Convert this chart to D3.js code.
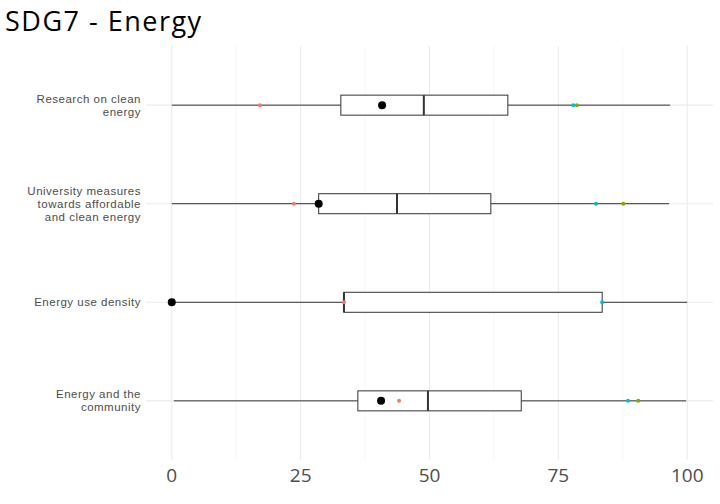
<html>
<head>
<style>
  body { margin: 0; background: white }
  text { font-family: "Open Sans", Lato, sans-serif; }
  .ylab text { font-family: "Liberation Sans", Arial, sans-serif; }
</style>
</head>
<body>
<script src="https://d3js.org/d3.v7.min.js"></script>
<script>
// Boxplots per indicator
var categories = ["Research on clean energy",
                  "University measures towards affordable and clean energy",
                  "Energy use density",
                  "Energy and the community"];
var labelLines = [["Research on clean", "energy"],
                  ["University measures", "towards affordable", "and clean energy"],
                  ["Energy use density"],
                  ["Energy and the", "community"]];
var whiskerLow  = [0, 0, 0, 0.4];
var q1          = [32.8, 28.5, 33.4, 36.1];
var median      = [48.9, 43.7, 33.4, 49.7];
var q3          = [65.2, 61.9, 83.5, 67.8];
var whiskerHigh = [96.7, 96.5, 100, 99.8];
var highlight   = [40.8, 28.5, 0, 40.6];   // big black point
var redPts      = [17.1, 23.7, 33.4, 44.1];
var cyanPts     = [77.9, 82.3, 83.5, 88.5];
var greenPts    = [78.6, 87.6, null, 90.5];
var xTicks      = [0, 25, 50, 75, 100];

var width = 720, height = 504;
var panel = {left: 146, right: 713, top: 46, bottom: 460};

var svg = d3.select("body").append("svg")
  .attr("width", width)
  .attr("height", height);

var x = d3.scaleLinear().domain([-5, 105]).range([panel.left, panel.right]);
var y = d3.scalePoint().domain(categories).range([panel.top, panel.bottom]).padding(0.6);

// grid
var grid = svg.append("g");
var minor = [12.5, 37.5, 62.5, 87.5];
grid.selectAll("line.minor").data(minor).enter().append("line")
  .attr("x1", function(d) { return x(d); }).attr("x2", function(d) { return x(d); })
  .attr("y1", panel.top).attr("y2", panel.bottom)
  .attr("stroke", "#f2f2f2").attr("stroke-width", 0.8);
grid.selectAll("line.major").data(xTicks).enter().append("line")
  .attr("x1", function(d) { return x(d); }).attr("x2", function(d) { return x(d); })
  .attr("y1", panel.top).attr("y2", panel.bottom)
  .attr("stroke", "#ebebeb").attr("stroke-width", 1.1);
grid.selectAll("line.hz").data(categories).enter().append("line")
  .attr("x1", panel.left).attr("x2", panel.right)
  .attr("y1", function(d) { return y(d); }).attr("y2", function(d) { return y(d); })
  .attr("stroke", "#ebebeb").attr("stroke-width", 1.1);

// boxes
var boxH = 20;
var rows = svg.append("g").selectAll("g").data(categories).enter().append("g")
  .attr("transform", function(d) { return "translate(0," + y(d) + ")"; });

rows.append("line")
  .attr("x1", function(d, i) { return x(whiskerLow[i]); })
  .attr("x2", function(d, i) { return x(q1[i]); })
  .attr("stroke", "#333").attr("stroke-width", 1);
rows.append("line")
  .attr("x1", function(d, i) { return x(q3[i]); })
  .attr("x2", function(d, i) { return x(whiskerHigh[i]); })
  .attr("stroke", "#333").attr("stroke-width", 1);
rows.append("rect")
  .attr("x", function(d, i) { return x(q1[i]); })
  .attr("width", function(d, i) { return x(q3[i]) - x(q1[i]); })
  .attr("y", -boxH / 2).attr("height", boxH)
  .attr("fill", "white").attr("stroke", "#333").attr("stroke-width", 1);
rows.append("line")
  .attr("x1", function(d, i) { return x(median[i]); })
  .attr("x2", function(d, i) { return x(median[i]); })
  .attr("y1", -boxH / 2).attr("y2", boxH / 2)
  .attr("stroke", "#333").attr("stroke-width", 2);

// points
function dots(vals, color, r) {
  rows.filter(function(d, i) { return vals[i] != null; })
    .append("circle")
    .attr("cx", function(d) { return x(vals[categories.indexOf(d)]); })
    .attr("cy", 0).attr("r", r).attr("fill", color);
}
dots(redPts, "#F8766D", 2);
dots(cyanPts, "#00BFC4", 2);
dots(greenPts, "#7CAE00", 2);
dots(highlight, "black", 4);

// x axis labels
svg.append("g").selectAll("text").data(xTicks).enter().append("text")
  .attr("x", function(d) { return x(d); })
  .attr("y", 482)
  .attr("text-anchor", "middle")
  .attr("font-size", 19)
  .attr("fill", "#4d4d4d")
  .text(function(d) { return d; });

// y axis labels
var ylab = svg.append("g").attr("class", "ylab").selectAll("text").data(categories).enter().append("text")
  .attr("text-anchor", "end")
  .attr("font-size", 11.5)
  .attr("letter-spacing", 0.5)
  .attr("fill", "#4d4d4d")
  .attr("transform", function(d, i) {
    var n = labelLines[i].length;
    return "translate(141," + (y(d) - (n - 1) * 6.5 + 4) + ")";
  });
ylab.selectAll("tspan").data(function(d, i) { return labelLines[i]; }).enter().append("tspan")
  .attr("x", 0)
  .attr("dy", function(d, j) { return j == 0 ? 0 : 13; })
  .text(function(d) { return d; });

// title
svg.append("text")
  .attr("x", 5).attr("y", 31)
  .attr("font-size", 27)
  .attr("letter-spacing", 1.5)
  .attr("fill", "black")
  .text("SDG7 - Energy");
</script>
</body>
</html>
